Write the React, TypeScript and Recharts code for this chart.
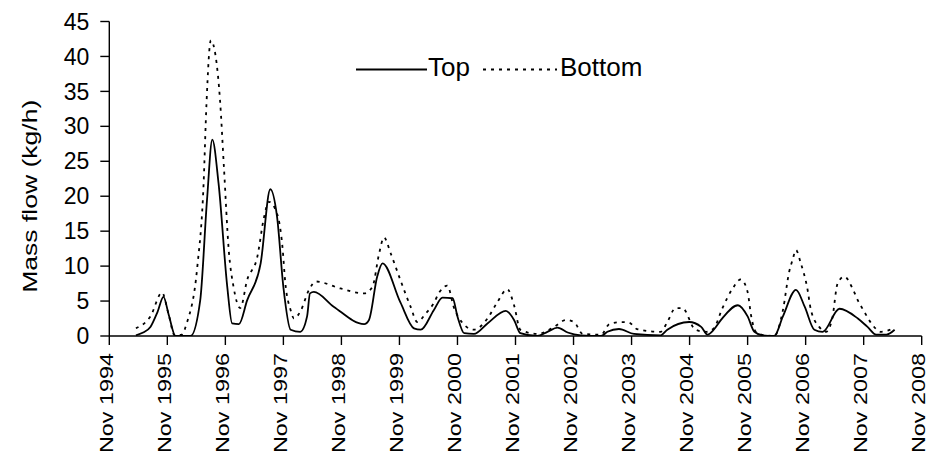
import React from 'react';
import { LineChart, Line, XAxis, YAxis, Legend, Label } from 'recharts';

// Months counted from Nov 1994
const tickMonths = [0, 12, 24, 36, 48, 60, 72, 84, 96, 108, 120, 132, 144, 156, 168];
const xTickLabels = [
  'Nov 1994', 'Nov 1995', 'Nov 1996', 'Nov 1997', 'Nov 1998', 'Nov 1999', 'Nov 2000',
  'Nov 2001', 'Nov 2002', 'Nov 2003', 'Nov 2004', 'Nov 2005', 'Nov 2006', 'Nov 2007', 'Nov 2008',
];
const yTicks = [0, 5, 10, 15, 20, 25, 30, 35, 40, 45];

const topMonths = [
  5.5, 7, 8.5, 10, 11.2, 12.3, 13.7, 16.8, 18.8, 20.2, 21.3, 22.6, 24.4, 25.4, 26.8, 28.5, 31.3,
  33.3, 34.7, 36, 37.5, 39.5, 40.9, 41.5, 42.3, 46.4, 52.7, 53.7, 55.4, 56.5, 60.2, 63, 64.4,
  67.1, 68.9, 71, 72, 73.4, 75.4, 78.2, 82, 83.7, 85, 88.5, 90.6, 92.7, 94.8, 97.5, 101.7, 103,
  105.4, 108.5, 114, 115.4, 119.9, 122.4, 123.7, 125, 126.5, 130, 132, 133.4, 135.1, 137.5,
  139.3, 142, 143.8, 145.8, 147.5, 151, 154.8, 156.8, 158.6, 160.7, 162.4,
];
const topFlow = [
  0.1, 0.5, 1.3, 3.5, 5.6, 3, 0, 0, 5.1, 19.4, 28.1, 21.8, 7, 1.8, 1.7, 5.1, 10.4,
  21, 17, 7, 0.9, 0.6, 2.8, 6.1, 6.3, 4.2, 1.7, 2.3, 8.5, 10.4, 4.8, 1.1, 0.9,
  3.7, 5.5, 5.4, 2.8, 0.4, 0.3, 1.8, 3.6, 2.3, 0.4, 0, 0.6, 1.2, 0.5, 0.1, 0, 0.6,
  1, 0.3, 0.1, 0.9, 2.0, 1.3, 0.2, 0.9, 2.3, 4.4, 2.8, 0.6, 0.1, 0,
  2.8, 6.6, 4.2, 0.9, 0.6, 3.9, 2.5, 1.3, 0.2, 0.2, 0.9,
];

const bottomMonths = [
  5.5, 8.5, 10.9, 12.3, 13.5, 15, 16, 18.2, 19.5, 20.1, 21, 22, 22.9, 23.7, 24.7, 25.7, 27.1,
  28.5, 30.6, 32, 33, 34.7, 35.8, 36.4, 37.5, 38.2, 39.5, 41.3, 42.7, 47.8, 52.7, 54.4, 55.8,
  56.8, 58.2, 60.2, 62.3, 63.7, 65.4, 67.1, 68.2, 69.9, 71.3, 73, 75.4, 78.2, 80.3, 82.3, 83.7,
  85, 88.5, 92, 94.4, 96.1, 97.9, 101.7, 103.4, 105.8, 107.5, 109.1, 114, 115.4, 117.1, 118.5,
  121.2, 123.5, 125, 126.8, 128.9, 130.6, 132, 132.7, 133.7, 135.5, 137.5, 139.3, 140.6, 141.3,
  142, 143, 144.3, 145.1, 146.8, 148.2, 149.5, 150.6, 152, 153.7, 154.8, 156.1, 157.8, 159.6, 162.2,
];
const bottomFlow = [
  1.1, 2.8, 6.2, 3, 0.1, 0.2, 1.8, 9.9, 21.8, 33.3, 42.3, 40, 33.7, 24.2, 12.3, 7, 4,
  8, 11.3, 17, 19.2, 17.5, 12.8, 7.6, 3.7, 2.5, 3.5, 6.6, 7.8, 6.8, 6.1, 7, 11.8,
  14.1, 11.8, 8, 4.2, 2, 3.2, 4.7, 6.2, 7.2, 4, 1.9, 0.9, 2.5, 4.9, 6.7, 4.4,
  0.9, 0.3, 1.3, 2.3, 2, 0.3, 0.2, 1.7, 2, 1.9, 1, 0.6, 2, 4, 4,
  0.9, 0.6, 1.1, 4, 6.8, 8.1, 6.3, 3, 0.6, 0.1, 0, 3.7, 9.2, 10.9,
  12.3, 10.4, 7, 3.7, 1.3, 0.6, 2.5, 7.5, 8.5, 6.8, 5.1, 3.5, 1.6, 0.6, 1.1,
];

const seriesNames = ['Top', 'Bottom'];

const topData = topMonths.map((m, i) => ({ month: m, flow: topFlow[i] }));
const bottomData = bottomMonths.map((m, i) => ({ month: m, flow: bottomFlow[i] }));

const FONT = '"Liberation Sans", Arial, Helvetica, sans-serif';
const DASH = '3 5';

const XTick = (props: any) => {
  const { x, y, payload, index } = props;
  const i = tickMonths.indexOf(payload.value);
  const text = i >= 0 ? xTickLabels[i] : String(payload.value);
  return (
    <g transform={`translate(${x + 3.5},${y + 6}) rotate(-90)`}>
      <text
        x={0}
        y={0}
        textAnchor="end"
        fontFamily={FONT}
        fontSize={17.5}
        fill="#000"
        textLength={100}
        lengthAdjust="spacingAndGlyphs"
      >
        {text}
      </text>
    </g>
  );
};

const YLabel = (props: any) => {
  const vb = props.viewBox || { x: 0, y: 21.5, width: 109.3, height: 314.5 };
  const cx = 36.7;
  const cy = vb.y + vb.height / 2 + 17.5;
  return (
    <text
      x={cx}
      y={cy}
      transform={`rotate(-90, ${cx}, ${cy})`}
      textAnchor="middle"
      fontFamily={FONT}
      fontSize={21}
      fill="#000"
      textLength={193}
      lengthAdjust="spacingAndGlyphs"
    >
      Mass flow (kg/h)
    </text>
  );
};

const LegendContent = () => (
  <svg width={935} height={100} style={{ display: 'block' }}>
    <line x1={356} x2={427} y1={69.5} y2={69.5} stroke="#000" strokeWidth={1.8} />
    <text x={428} y={76} fontFamily={FONT} fontSize={26} fill="#000">
      {seriesNames[0]}
    </text>
    <line x1={483} x2={557} y1={69.5} y2={69.5} stroke="#000" strokeWidth={1.8} strokeDasharray={DASH} />
    <text x={560} y={76} fontFamily={FONT} fontSize={26} fill="#000">
      {seriesNames[1]}
    </text>
  </svg>
);

export default function App() {
  return (
    <div style={{ position: 'absolute', left: 0, top: 0, width: 935, height: 459, background: '#fff' }}>
      <LineChart
        width={935}
        height={459}
        margin={{ top: 21.5, right: 13.3, bottom: 0, left: 0 }}
        style={{ fontFamily: FONT }}
      >
        <XAxis
          dataKey="month"
          type="number"
          domain={[0, 168]}
          ticks={tickMonths}
          interval={0}
          height={123}
          tickSize={9}
          tickMargin={2}
          axisLine={{ stroke: '#000', strokeWidth: 1.4 }}
          tickLine={{ stroke: '#000', strokeWidth: 1.4 }}
          tick={<XTick />}
          allowDataOverflow
        />
        <YAxis
          type="number"
          domain={[0, 45]}
          ticks={yTicks}
          interval={0}
          width={109.3}
          tickSize={9}
          tickMargin={11}
          axisLine={{ stroke: '#000', strokeWidth: 1.4 }}
          tickLine={{ stroke: '#000', strokeWidth: 1.4 }}
          tick={{ fill: '#000', fontSize: 23, fontFamily: FONT }}
          allowDataOverflow
        >
          <Label content={<YLabel />} />
        </YAxis>
        <Legend
          layout="horizontal"
          verticalAlign="middle"
          align="center"
          wrapperStyle={{ left: 0, top: 0, width: 935, height: 100 }}
          content={<LegendContent />}
        />
        <Line
          data={topData}
          dataKey="flow"
          name={seriesNames[0]}
          type="monotone"
          stroke="#000"
          strokeWidth={1.8}
          dot={false}
          activeDot={false}
          isAnimationActive={false}
        />
        <Line
          data={bottomData}
          dataKey="flow"
          name={seriesNames[1]}
          type="monotone"
          stroke="#000"
          strokeWidth={1.8}
          strokeDasharray={DASH}
          dot={false}
          activeDot={false}
          isAnimationActive={false}
        />
      </LineChart>
    </div>
  );
}
